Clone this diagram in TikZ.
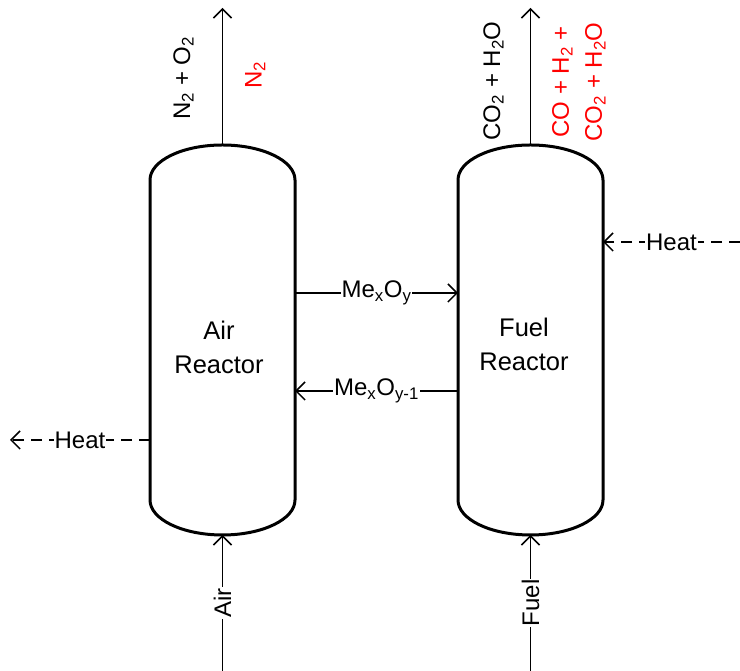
\documentclass[tikz,border=0pt]{standalone}
\usepackage{fontspec}
\setmainfont{Liberation Sans}
\usetikzlibrary{arrows.meta, calc}
\definecolor{prod}{HTML}{FF0000}

\begin{document}
\begin{tikzpicture}[x=1pt, y=1pt,
    every node/.style={font=\fontsize{24}{33}\selectfont},
    reactor/.style={minimum width=145pt, minimum height=320pt, inner sep=0pt, outer sep=0pt},
    vessel/.style={line width=3pt, line join=round},
    flow/.style={line width=1.5pt, -{Straight Barb[length=9pt, width=18pt]}},
    heatflow/.style={flow, dash pattern=on 11pt off 7pt},
    tag/.style={fill=white, inner sep=1pt},
    stream/.style={rotate=90, inner sep=0pt}]
  \useasboundingbox (0,0) rectangle (740,671);
  % vessels
  \node[reactor] (air) at (222.5,331) {};
  \node[reactor] (fuel) at (530.5,331) {};
  \foreach \r in {air, fuel}
    \draw[vessel] (\r.south west) -- (\r.north west)
      arc[start angle=180, end angle=0, x radius=72.5, y radius=35]
      -- (\r.south east)
      arc[start angle=0, end angle=-180, x radius=72.5, y radius=35] -- cycle;
  \node[align=center, font=\fontsize{25.5}{34}\selectfont] (airname) at (219,324) {Air\\Reactor};
  \node[align=center, font=\fontsize{25.5}{34}\selectfont] (fuelname) at (524,327) {Fuel\\Reactor};

  % gases out
  \draw[flow] ([yshift=35pt]air.north) -- ++(0,137) coordinate (airvent);
  \draw[flow] ([yshift=35pt]fuel.north) -- ++(0,137) coordinate (fuelvent);
  \node[stream, anchor=base] (airgas) at (190,593) {N\textsubscript{2} + O\textsubscript{2}};
  \node[stream, anchor=north, text=prod] (airgasred) at (245,596) {N\textsubscript{2}};
  \node[stream, anchor=base] (fuelgas) at (500,590) {CO\textsubscript{2} + H\textsubscript{2}O};
  \node[stream, anchor=north, text=prod, align=center] (fuelgasred) at (552,589)
    {CO + H\textsubscript{2} +\\CO\textsubscript{2} + H\textsubscript{2}O};

  % oxygen carrier loop
  \draw[flow] ([yshift=47pt]air.east) -- node[tag] (ox) {Me\textsubscript{x}O\textsubscript{y}} ([yshift=47pt]fuel.west);
  \draw[flow] ([yshift=-51pt]fuel.west) -- node[tag] (red) {Me\textsubscript{x}O\textsubscript{y-1}} ([yshift=-51pt]air.east);

  % heat
  \draw[heatflow] ([yshift=-100pt]air.west) -- node[tag] (heatout) {Heat} ++(-140,0) coordinate (heatsink);
  \coordinate (heatsrc) at (740,429);
  \draw[heatflow] (heatsrc) -- node[tag] (heatin) {Heat} ([yshift=98pt]fuel.east);

  % feeds
  \coordinate (airfeed) at (222.5,0);
  \coordinate (fuelfeed) at (530.5,0);
  \draw[flow] (airfeed) -- node[tag, rotate=90] (airin) {Air} ([yshift=-35pt]air.south);
  \draw[flow] (fuelfeed) -- node[tag, rotate=90] (fuelin) {Fuel} ([yshift=-35pt]fuel.south);
\end{tikzpicture}
\end{document}
